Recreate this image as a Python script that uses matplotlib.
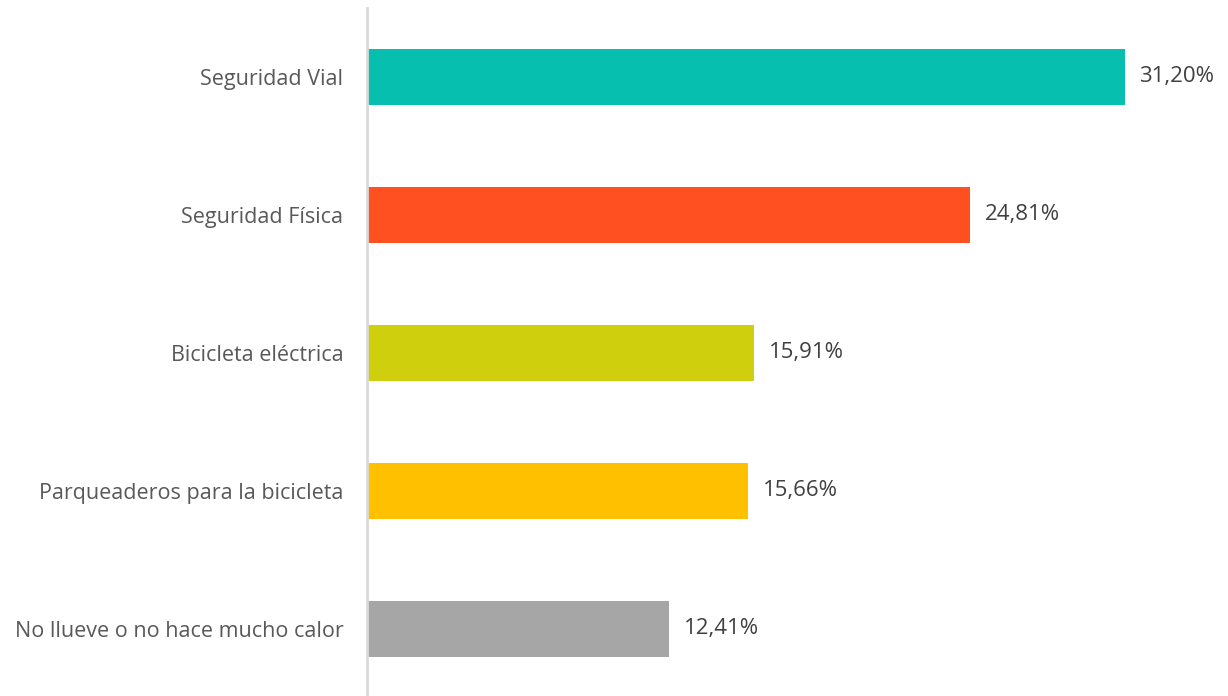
import matplotlib.pyplot as plt

categories = ["Seguridad Vial", "Seguridad Física", "Bicicleta eléctrica",
              "Parqueaderos para la bicicleta", "No llueve o no hace mucho calor"]
values = [31.20, 24.81, 15.91, 15.66, 12.41]
colors = ["#07BFAF", "#FF5021", "#D0CF0E", "#FFC000", "#A6A6A6"]

plt.rcParams['font.family'] = ['Open Sans', 'DejaVu Sans']

fig = plt.figure(figsize=(12.28, 6.96), dpi=100)
W, H = 1228, 696
ax = fig.add_axes([367 / W, 0, (W - 367) / W, (696 - 8) / H])

ypos = list(range(len(categories)))
ax.barh(ypos, values, height=0.405, color=colors, left=0.04)
ax.set_xlim(0, 35.49)
ax.set_ylim(4.486, -0.5)

# value labels just past the end of each bar
for y, v in zip(ypos, values):
    ax.text(v + 0.04 + 0.6, y, f"{v:.2f}%".replace(".", ","), va="center",
            ha="left", fontsize=16, color="#404040")

ax.set_yticks(ypos)
ax.set_yticklabels(categories, fontsize=15.5, color="#595959")
ax.tick_params(axis="y", length=0, pad=17)
ax.set_xticks([])
for side in ["top", "right", "bottom"]:
    ax.spines[side].set_visible(False)
ax.spines["left"].set_color("#D9D9D9")
ax.spines["left"].set_linewidth(2)

fig.savefig("out.png", dpi=100, facecolor="white")
